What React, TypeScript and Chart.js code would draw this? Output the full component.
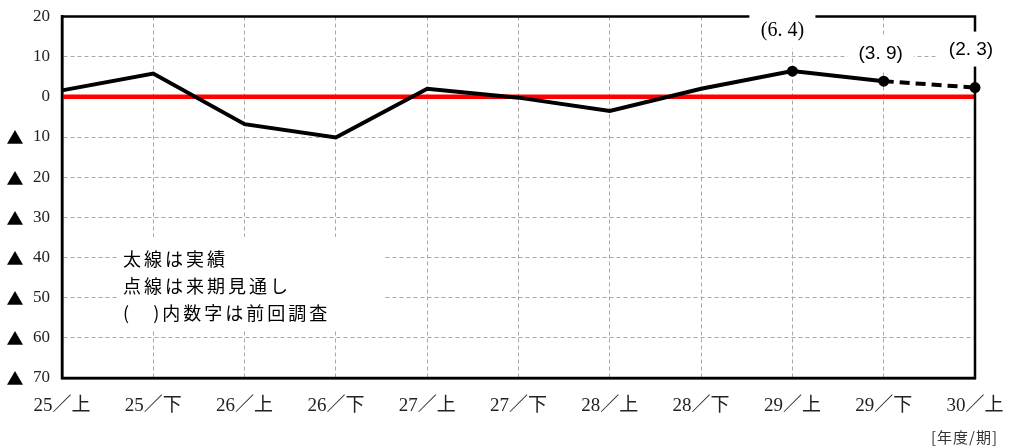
import React, { useEffect, useRef } from "react";
import { Chart, registerables } from "chart.js";

Chart.register(...registerables);

const categories = ["25／上", "25／下", "26／上", "26／下", "27／上", "27／下", "28／上", "28／下", "29／上", "29／下", "30／上"];
const actualValues = [1.6, 5.8, -6.8, -10.1, 2.0, -0.2, -3.5, 2.0, 6.4, 3.9, null];
const forecastValues = [null, null, null, null, null, null, null, null, null, 3.9, 2.3];
const baselineValues = [0, 0, 0, 0, 0, 0, 0, 0, 0, 0, 0];
const actualMarkerIdx = [8, 9];
const forecastMarkerIdx = [10];
const prevSurveyLabels = ["(6. 4)", "(3. 9)", "(2. 3)"];
const prevSurveyIdx = [8, 9, 10];
const prevSurveyValues = [6.4, 3.9, 2.3];
const noteLines = ["太線は実績", "点線は来期見通し", "(   )内数字は前回調査"];
const unitLabel = "[年度/期]";
const negativeMark = "▲";
const yMin = -70;
const yMax = 20;
const yStep = 10;

// styling / offsets (not data)
const labelOffsets = [[-10, -40], [-3, -27], [-4, -38]];
const labelFonts = ['20px "Liberation Serif", serif', '19px "Liberation Sans", sans-serif', '19px "Liberation Sans", sans-serif'];

const decorPlugin = {
  id: "decor",
  afterDraw(chart: any) {
    const { ctx, chartArea } = chart;
    const xs = chart.scales.x;
    const ys = chart.scales.y;
    ctx.save();
    ctx.setLineDash([]);
    // plot border
    ctx.strokeStyle = "#000";
    ctx.lineWidth = 2.5;
    ctx.strokeRect(chartArea.left, chartArea.top, chartArea.right - chartArea.left, chartArea.bottom - chartArea.top);

    // negative marks beside y tick labels
    ctx.fillStyle = "#000";
    ctx.font = '17px "Noto Sans CJK JP", sans-serif';
    ctx.textAlign = "center";
    ctx.textBaseline = "middle";
    ys.ticks.forEach((t: any) => {
      if (t.value < 0) ctx.fillText(negativeMark, 15, ys.getPixelForValue(t.value) + 1);
    });

    // previous survey labels with white boxes
    prevSurveyLabels.forEach((t, i) => {
      const cx = xs.getPixelForValue(prevSurveyIdx[i]) + labelOffsets[i][0];
      const cy = ys.getPixelForValue(prevSurveyValues[i]) + labelOffsets[i][1];
      ctx.fillStyle = "#fff";
      ctx.fillRect(cx - 33, cy - 18, 66, 35);
      ctx.fillStyle = "#000";
      ctx.font = labelFonts[i];
      ctx.textAlign = "center";
      ctx.textBaseline = "middle";
      ctx.fillText(t, cx, cy);
    });

    // note box
    ctx.fillStyle = "#fff";
    ctx.fillRect(117, 237, 266, 93);
    ctx.fillStyle = "#000";
    ctx.font = '18px "Noto Sans CJK JP", sans-serif';
    (ctx as any).letterSpacing = "3px";
    ctx.textAlign = "left";
    ctx.textBaseline = "middle";
    noteLines.forEach((t, i) => {
      ctx.fillText(t, 123, 259 + i * 27);
    });

    // unit label
    (ctx as any).letterSpacing = "1px";
    ctx.font = '15px "Noto Sans CJK JP", sans-serif';
    ctx.textAlign = "right";
    ctx.fillStyle = "#333";
    ctx.fillText(unitLabel, 998, 437);
    (ctx as any).letterSpacing = "0px";
    ctx.restore();
  },
};

export default function App() {
  const ref = useRef<HTMLCanvasElement | null>(null);
  useEffect(() => {
    if (!ref.current) return;
    const markerRadius = (idxs: number[]) => categories.map((_, i) => (idxs.includes(i) ? 5.5 : 0));
    const chart = new Chart(ref.current, {
      type: "line",
      data: {
        labels: categories,
        datasets: [
          {
            data: actualValues,
            borderColor: "#000",
            backgroundColor: "#000",
            borderWidth: 4,
            pointRadius: markerRadius(actualMarkerIdx),
            pointBackgroundColor: "#000",
            pointBorderWidth: 0,
            tension: 0,
            clip: false,
            order: 1,
          } as any,
          {
            data: forecastValues,
            borderColor: "#000",
            backgroundColor: "#000",
            borderWidth: 4,
            borderDash: [10, 6],
            pointRadius: markerRadius(forecastMarkerIdx),
            pointBackgroundColor: "#000",
            pointBorderWidth: 0,
            tension: 0,
            clip: false,
            order: 1,
          } as any,
          {
            data: baselineValues,
            borderColor: "#ff0000",
            borderWidth: 4.5,
            pointRadius: 0,
            tension: 0,
            order: 5,
          } as any,
        ],
      },
      options: {
        animation: false,
        responsive: true,
        maintainAspectRatio: false,
        layout: { padding: { top: 16.5, right: 35, left: 0, bottom: 0 } },
        plugins: { legend: { display: false }, tooltip: { enabled: false } },
        scales: {
          x: {
            offset: false,
            afterFit: (s: any) => { s.height = 70; s.paddingLeft = 0; s.paddingRight = 0; },
            grid: { color: "#a8a8a8", lineWidth: 1, drawTicks: false },
            border: { display: true, color: "#000", width: 2.5, dash: [4, 3] } as any,
            ticks: {
              padding: 17,
              autoSkip: false,
              maxRotation: 0,
              color: "#222",
              font: { family: '"Liberation Serif", "Noto Sans CJK JP", serif', size: 19 },
            },
          },
          y: {
            min: yMin,
            max: yMax,
            afterFit: (s: any) => { s.width = 62; s.paddingTop = 4; s.paddingBottom = 4; },
            grid: { color: "#a8a8a8", lineWidth: 1, drawTicks: false },
            border: { display: true, color: "#000", width: 2.5, dash: [4, 3] } as any,
            ticks: {
              stepSize: yStep,
              padding: 12,
              color: "#222",
              font: { family: '"Liberation Serif", serif', size: 17 },
              callback: (v: any) => String(Math.abs(Number(v))),
            },
          },
        },
      },
      plugins: [decorPlugin],
    } as any);
    return () => chart.destroy();
  }, []);
  return (
    <div style={{ position: "fixed", left: 0, top: 0, width: 1010, height: 448, background: "#fff" }}>
      <canvas ref={ref} />
    </div>
  );
}
